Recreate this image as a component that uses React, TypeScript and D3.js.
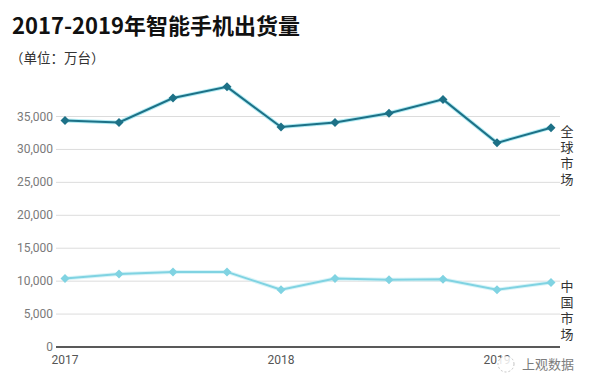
import * as d3 from "d3";
import React from "react";

// quarterly shipments, 2017Q1 - 2019Q2 (万台)
const quarters = ["2017Q1", "2017Q2", "2017Q3", "2017Q4", "2018Q1", "2018Q2", "2018Q3", "2018Q4", "2019Q1", "2019Q2"];
const globalMarket = [34400, 34100, 37800, 39500, 33400, 34100, 35500, 37600, 31000, 33300];
const chinaMarket = [10400, 11100, 11400, 11400, 8700, 10400, 10200, 10300, 8700, 9800];
const yTicks = [0, 5000, 10000, 15000, 20000, 25000, 30000, 35000];
const xLabels = [
  { q: "2017Q1", text: "2017" },
  { q: "2018Q1", text: "2018" },
  { q: "2019Q1", text: "2019" },
];

const W = 595;
const H = 389;
const margin = { top: 80, right: 35, bottom: 42, left: 56 };

const font = "Roboto, 'Noto Sans CJK SC', sans-serif";
const cjk = "'Noto Sans CJK SC', sans-serif";

export default function App() {
  const innerW = W - margin.left - margin.right;
  const x = d3
    .scalePoint<string>()
    .domain(quarters)
    .range([margin.left + 9, margin.left + 495]);
  const y = d3
    .scaleLinear()
    .domain([0, 35000])
    .range([H - margin.bottom, H - margin.bottom - 230.5]);

  const line = d3
    .line<number>()
    .x((_, i) => x(quarters[i]) as number)
    .y((d) => y(d));

  // square turned 45deg
  const diamond = "M0,-4.5L4.5,0L0,4.5L-4.5,0Z";
  const fmt = d3.format(",");

  const series = [
    { data: globalMarket, color: "#1d7187", glow: "#8fe3ee", label: "全球市场" },
    { data: chinaMarket, color: "#80d3e2", glow: "#c9f0f5", label: "中国市场" },
  ];

  return (
    <svg width={W} height={H} style={{ position: "absolute", left: 0, top: 0, background: "#fff" }}>
      <text x={12} y={34} fontFamily={cjk} fontSize={22} fontWeight="bold" fill="#111">
        2017-2019年智能手机出货量
      </text>
      <text x={10} y={63} fontFamily={cjk} fontSize={13.5} fill="#333">
        （单位：万台）
      </text>

      {/* grid */}
      {yTicks.map((t) => (
        <g key={t}>
          {t > 0 && (
            <line
              x1={margin.left}
              x2={margin.left + innerW}
              y1={y(t)}
              y2={y(t)}
              stroke="#dcdcdc"
              strokeWidth={1}
            />
          )}
          <text x={53} y={y(t) + 4} textAnchor="end" fontFamily={font} fontSize={12} fill="#7a7a7a">
            {fmt(t)}
          </text>
        </g>
      ))}
      <line
        x1={margin.left}
        x2={margin.left + innerW}
        y1={y(0)}
        y2={y(0)}
        stroke="#222"
        strokeWidth={1.5}
      />
      {xLabels.map((l) => (
        <text
          key={l.q}
          x={x(l.q)}
          y={y(0) + 17}
          textAnchor="middle"
          fontFamily={font}
          fontSize={12}
          fill="#555"
        >
          {l.text}
        </text>
      ))}

      {series.map((s) => (
        <g key={s.label}>
          <path d={line(s.data) as string} fill="none" stroke={s.glow} strokeWidth={4} opacity={0.7} />
          <path d={line(s.data) as string} fill="none" stroke={s.color} strokeWidth={2} />
          {s.data.map((d, i) => (
            <path key={i} d={diamond} transform={`translate(${x(quarters[i])},${y(d)})`} fill={s.color} />
          ))}
          <text
            x={567}
            y={y(s.data[s.data.length - 1]) - 3}
            fontFamily={cjk}
            fontSize={13}
            fill="#333"
            letterSpacing={3}
            style={{ writingMode: "vertical-rl" }}
          >
            {s.label}
          </text>
        </g>
      ))}

      {/* watermark */}
      <g opacity={0.85}>
        <circle cx={506} cy={364} r={8} fill="#fff" stroke="#bbb" strokeDasharray="2 2" />
        <text x={522} y={369} fontFamily={cjk} fontSize={13} fill="#666">
          上观数据
        </text>
      </g>
    </svg>
  );
}
